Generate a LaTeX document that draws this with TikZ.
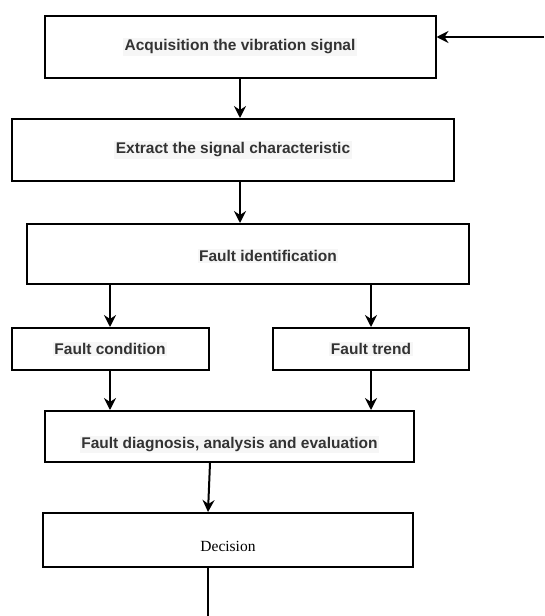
\documentclass[tikz,border=0pt]{standalone}
\usepackage{fontspec}
\setmainfont{Liberation Serif}
\setsansfont{Liberation Sans}
\definecolor{textgray}{RGB}{51,51,51}
\definecolor{hlgray}{RGB}{246,246,246}
\usetikzlibrary{arrows.meta}
\newcommand{\hl}[1]{{\setlength{\fboxsep}{1.5pt}\colorbox{hlgray}{#1}}}

\begin{document}
\begin{tikzpicture}[x=1pt, y=-1pt,
  txt/.style={font=\sffamily\bfseries\fontsize{15.5}{18}\selectfont, text=textgray},
  box/.style={rectangle, draw=black, line width=2pt, fill=white,
              align=center, txt},
  arr/.style={line width=2pt, -{Stealth[length=12pt,width=12pt,inset=4pt]}},
]
\useasboundingbox (0,0) rectangle (544,616);

% Steps
\node[box, minimum width=391pt, minimum height=62pt] (acq) at (240,47)
  {\hl{Acquisition the vibration signal}};
\node[box, minimum width=442pt, minimum height=62pt] (ext) at (233,150)
  {\hl{Extract the signal characteristic}};
\node[box, minimum width=442pt, minimum height=60pt,
      label={[txt, xshift=20pt, yshift=-2pt]center:\hl{Fault identification}}]
  (fid) at (248,254) {};

% Two branches
\node[box, minimum width=197pt, minimum height=42pt] (cond) at (110,349)
  {\hl{Fault condition}};
\node[box, minimum width=196pt, minimum height=42pt] (trend) at (371,349)
  {\hl{Fault trend}};

% Evaluation and decision
\node[box, minimum width=369pt, minimum height=51pt,
      label={[txt, yshift=-8pt]center:\hl{Fault diagnosis, analysis and evaluation}}]
  (diag) at (229.5,436.5) {};
\node[box, minimum width=370pt, minimum height=54pt,
      label={[font=\rmfamily\fontsize{15.5}{18}\selectfont, yshift=-6pt]center:Decision}]
  (dec) at (228,540) {};

% Free ends
\coordinate (in) at (544,37);
\coordinate (out) at (208,616);

% Connectors
\draw[arr] (in) -- (in -| acq.east);
\draw[arr] (acq.south) -- (acq.south |- ext.north);
\draw[arr] (ext.south -| acq.south) -- (fid.north -| acq.south);
\draw[arr] (fid.south -| cond.north) -- (cond.north);
\draw[arr] (fid.south -| trend.north) -- (trend.north);
\draw[arr] (cond.south) -- (cond.south |- diag.north);
\draw[arr] (trend.south) -- (trend.south |- diag.north);
\draw[arr] ([xshift=-19.5pt]diag.south) -- ([xshift=-20pt]dec.north);
\draw[line width=2pt] (dec.south -| out) -- (out);
\end{tikzpicture}
\end{document}
